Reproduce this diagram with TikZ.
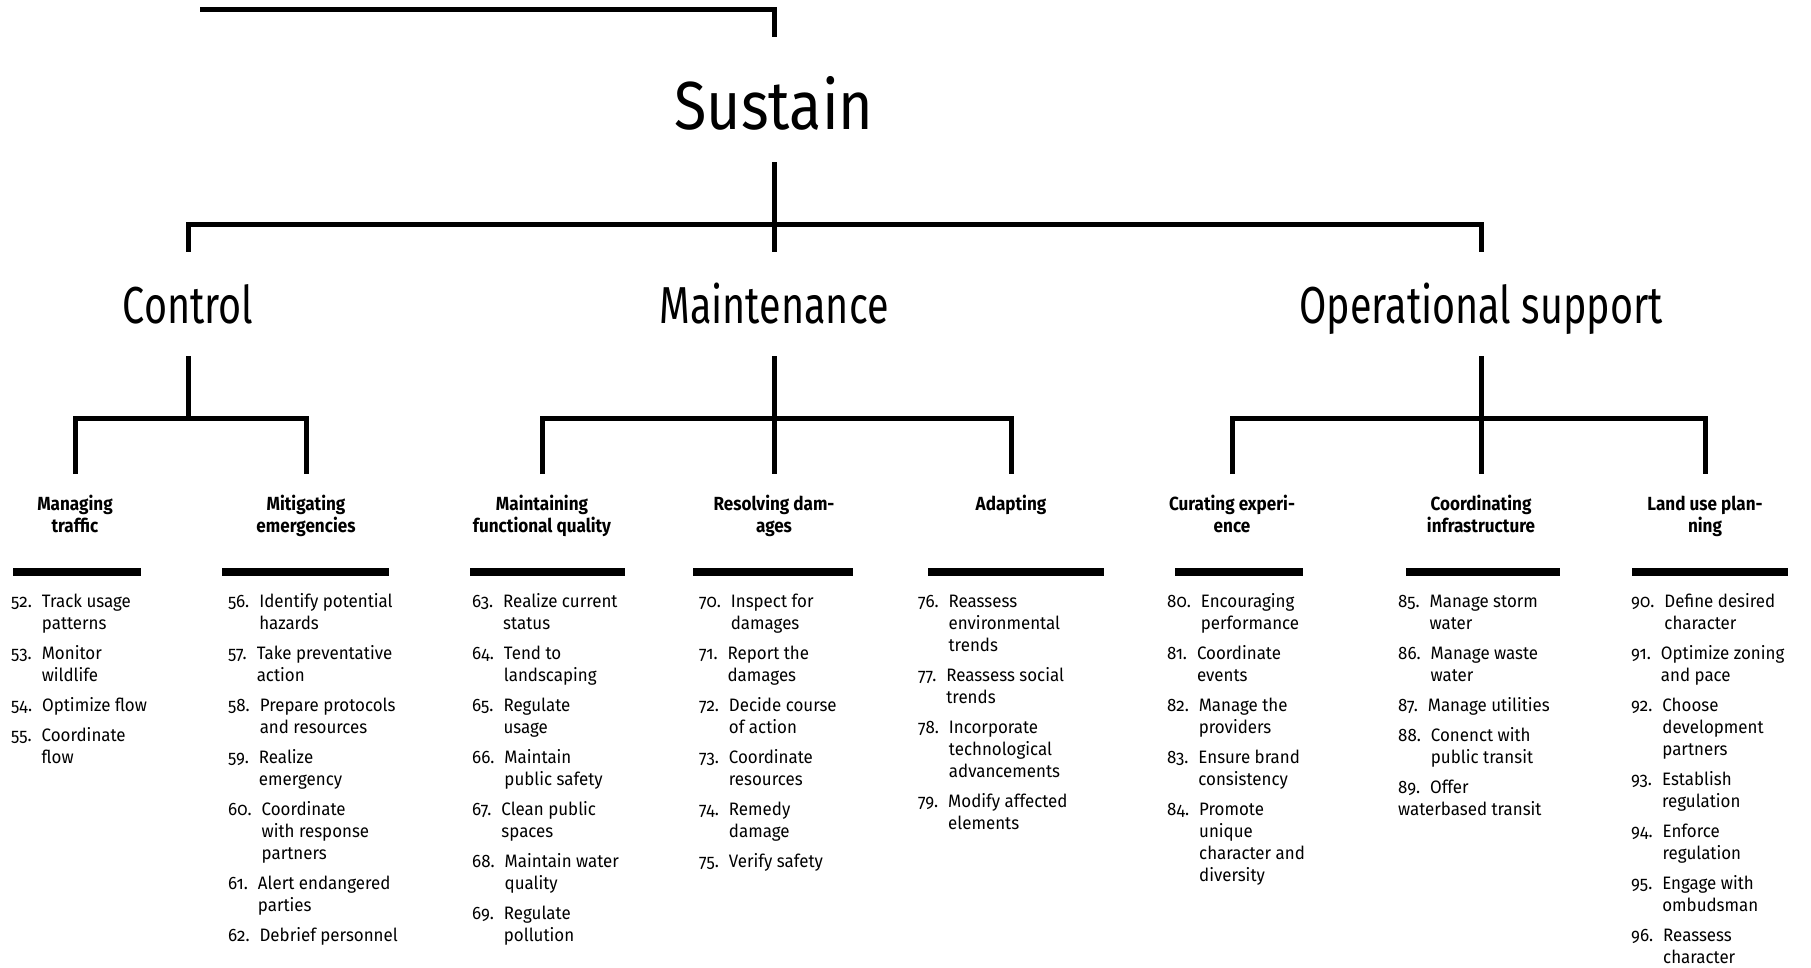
\documentclass[tikz,border=0pt]{standalone}
\usepackage{fontspec}
\setmainfont{Fira Sans}[Numbers={OldStyle,Proportional}, FakeStretch=0.94]
\newfontfamily\rootfont{Fira Sans}[FakeStretch=0.87]
\newfontfamily\headfont{Fira Sans}[FakeStretch=0.76]
\newfontfamily\subfont{Fira Sans}[FakeStretch=0.9]
\usetikzlibrary{calc}

% numbered task: number, then the text with a hanging indent
\newcommand\entry[2]{\begin{tabular}[t]{@{}l@{\hspace{10pt}}l@{}}#1. & #2\end{tabular}}
% fixes the first baseline of a sub-heading below the node top
\newcommand\toprule{\rule{0pt}{36pt}}

\begin{document}
\begin{tikzpicture}[x=1pt, y=-1pt,
  conn/.style={line width=5pt, line cap=butt, line join=miter},
  rootlabel/.style={font=\rootfont\fontsize{68}{68}\selectfont, inner sep=0,
    anchor=base, text height=93pt, text depth=32pt},
  grouplabel/.style={font=\headfont\fontsize{52}{52}\selectfont, inner sep=0,
    anchor=base, text height=71pt, text depth=33pt},
  subhead/.style={font=\subfont\bfseries\fontsize{19}{22}\selectfont, inner sep=0,
    anchor=north, align=center},
  bar/.style={rectangle, fill=black, draw=none, inner sep=0, minimum height=8pt},
  task/.style={anchor=base west, inner sep=0, font=\fontsize{18}{22}\selectfont}]
\useasboundingbox (0,0) rectangle (1811,968);

% root
\node[rootlabel] (sustain) at (774,130) {Sustain};
\coordinate (feed) at (200,10);
\draw[conn] (feed) -| (sustain.north);

% second level
\node[grouplabel] (control) at (188,323) {Control};
\node[grouplabel] (maintenance) at (774,323) {Maintenance};
\node[grouplabel] (operational) at (1481,323) {Operational support};
\draw[conn] (sustain.south) -- (maintenance.north);
\draw[conn] (control.north) -- ++(0,-27) -| (operational.north);

% third level
\node[subhead] (s-managing) at (75,474) {\toprule Managing\\traffic};
\node[subhead] (s-mitigating) at (306,474) {\toprule Mitigating\\emergencies};
\node[subhead] (s-maintaining) at (542,474) {\toprule Maintaining\\functional quality};
\node[subhead] (s-resolving) at (774,474) {\toprule Resolving dam-\\ages};
\node[subhead] (s-adapting) at (1011,474) {\toprule Adapting};
\node[subhead] (s-curating) at (1232,474) {\toprule Curating experi-\\ence};
\node[subhead] (s-coordinating) at (1481,474) {\toprule Coordinating\\infrastructure};
\node[subhead] (s-landuse) at (1705,474) {\toprule Land use plan-\\ning};

\coordinate (ctl-bus) at ($(s-managing.north)+(0,-56)$);
\draw[conn] (control.south) -- (control.south |- ctl-bus);
\draw[conn] (s-managing.north) -- (ctl-bus) -| (s-mitigating.north);

\draw[conn] (maintenance.south) -- (s-resolving.north);
\draw[conn] (s-maintaining.north) -- ++(0,-56) -| (s-adapting.north);

\draw[conn] (operational.south) -- (s-coordinating.north);
\draw[conn] (s-curating.north) -- ++(0,-56) -| (s-landuse.north);

% rules under the sub-headings
\node[bar, minimum width=128pt] (b-managing) at (77,572) {};
\node[bar, minimum width=167pt] (b-mitigating) at (305.5,572) {};
\node[bar, minimum width=155pt] (b-maintaining) at (547.5,572) {};
\node[bar, minimum width=160pt] (b-resolving) at (773,572) {};
\node[bar, minimum width=176pt] (b-adapting) at (1016,572) {};
\node[bar, minimum width=128pt] (b-curating) at (1239,572) {};
\node[bar, minimum width=154pt] (b-coordinating) at (1483,572) {};
\node[bar, minimum width=156pt] (b-landuse) at (1710,572) {};

% Managing traffic
\node[task] (t52) at (11,607) {\entry{52}{Track usage\\&patterns}};
\node[task] (t53) at (11,659) {\entry{53}{Monitor\\&wildlife}};
\node[task] (t54) at (11,711) {\entry{54}{Optimize flow}};
\node[task] (t55) at (11,741) {\entry{55}{Coordinate\\&flow}};

% Mitigating emergencies
\node[task] (t56) at (228,607) {\entry{56}{Identify potential\\&hazards}};
\node[task] (t57) at (228,659) {\entry{57}{Take preventative\\&action}};
\node[task] (t58) at (228,711) {\entry{58}{Prepare protocols\\&and resources}};
\node[task] (t59) at (228,763) {\entry{59}{Realize\\&emergency}};
\node[task] (t60) at (228,815) {\entry{60}{Coordinate\\&with response\\&partners}};
\node[task] (t61) at (228,889) {\entry{61}{Alert endangered\\&parties}};
\node[task] (t62) at (228,941) {\entry{62}{Debrief personnel}};

% Maintaining functional quality
\node[task] (t63) at (472,607) {\entry{63}{Realize current\\&status}};
\node[task] (t64) at (472,659) {\entry{64}{Tend to\\&landscaping}};
\node[task] (t65) at (472,711) {\entry{65}{Regulate\\&usage}};
\node[task] (t66) at (472,763) {\entry{66}{Maintain\\&public safety}};
\node[task] (t67) at (472,815) {\entry{67}{Clean public\\&spaces}};
\node[task] (t68) at (472,867) {\entry{68}{Maintain water\\&quality}};
\node[task] (t69) at (472,919) {\entry{69}{Regulate\\&pollution}};

% Resolving damages
\node[task] (t70) at (699,607) {\entry{70}{Inspect for\\&damages}};
\node[task] (t71) at (699,659) {\entry{71}{Report the\\&damages}};
\node[task] (t72) at (699,711) {\entry{72}{Decide course\\&of action}};
\node[task] (t73) at (699,763) {\entry{73}{Coordinate\\&resources}};
\node[task] (t74) at (699,815) {\entry{74}{Remedy\\&damage}};
\node[task] (t75) at (699,867) {\entry{75}{Verify safety}};

% Adapting
\node[task] (t76) at (918,607) {\entry{76}{Reassess\\&environmental\\&trends}};
\node[task] (t77) at (918,681) {\entry{77}{Reassess social\\&trends}};
\node[task] (t78) at (918,733) {\entry{78}{Incorporate\\&technological\\&advancements}};
\node[task] (t79) at (918,807) {\entry{79}{Modify affected\\&elements}};

% Curating experience
\node[task] (t80) at (1167,607) {\entry{80}{Encouraging\\&performance}};
\node[task] (t81) at (1167,659) {\entry{81}{Coordinate\\&events}};
\node[task] (t82) at (1167,711) {\entry{82}{Manage the\\&providers}};
\node[task] (t83) at (1167,763) {\entry{83}{Ensure brand\\&consistency}};
\node[task] (t84) at (1167,815) {\entry{84}{Promote\\&unique\\&character and\\&diversity}};

% Coordinating infrastructure
\node[task] (t85) at (1398,607) {\entry{85}{Manage storm\\&water}};
\node[task] (t86) at (1398,659) {\entry{86}{Manage waste\\&water}};
\node[task] (t87) at (1398,711) {\entry{87}{Manage utilities}};
\node[task] (t88) at (1398,741) {\entry{88}{Conenct with\\&public transit}};
\node[task] (t89) at (1398,793) {\entry{89}{Offer\\\multicolumn{2}{@{}l@{}}{waterbased transit}}};

% Land use planning
\node[task] (t90) at (1631,607) {\entry{90}{Define desired\\&character}};
\node[task] (t91) at (1631,659) {\entry{91}{Optimize zoning\\&and pace}};
\node[task] (t92) at (1631,711) {\entry{92}{Choose\\&development\\&partners}};
\node[task] (t93) at (1631,785) {\entry{93}{Establish\\&regulation}};
\node[task] (t94) at (1631,837) {\entry{94}{Enforce\\&regulation}};
\node[task] (t95) at (1631,889) {\entry{95}{Engage with\\&ombudsman}};
\node[task] (t96) at (1631,941) {\entry{96}{Reassess\\&character}};
\end{tikzpicture}
\end{document}
